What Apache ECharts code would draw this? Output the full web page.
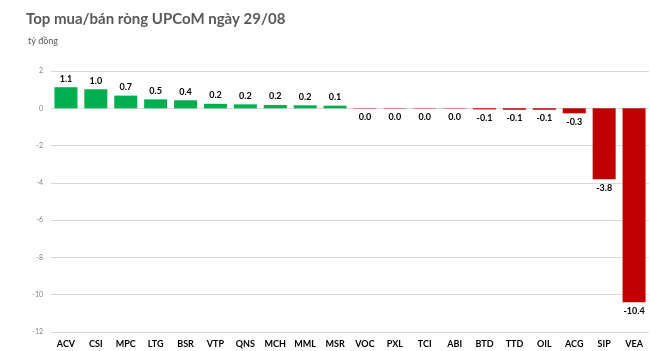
<!DOCTYPE html>
<html>
<head>
<meta charset="utf-8">
<script src="https://cdn.jsdelivr.net/npm/echarts@6/dist/echarts.min.js"></script>
<style>
  html, body { margin: 0; padding: 0; background: #fff; }
  #chart { width: 650px; height: 351px; }
</style>
</head>
<body>
<div id="chart"></div>
<script>
// mã cổ phiếu và giá trị mua/bán ròng (tỷ đồng)
const categories = ['ACV', 'CSI', 'MPC', 'LTG', 'BSR', 'VTP', 'QNS', 'MCH', 'MML', 'MSR',
  'VOC', 'PXL', 'TCI', 'ABI', 'BTD', 'TTD', 'OIL', 'ACG', 'SIP', 'VEA'];
const values = [1.13, 1.02, 0.68, 0.48, 0.43, 0.24, 0.21, 0.18, 0.16, 0.14,
  -0.02, -0.02, -0.02, -0.02, -0.06, -0.08, -0.08, -0.27, -3.8, -10.4];
const yTicks = [-12, -10, -8, -6, -4, -2, 0, 2];

const fmt = (v) => {
  let s = v.toFixed(1);
  if (s === '-0.0') s = '0.0';
  return s;
};

const myChart = echarts.init(document.getElementById('chart'));
myChart.setOption({
  animation: false,
  title: [
    {
      text: 'Top mua/bán ròng UPCoM ngày 29/08',
      left: 21, top: 7,
      textStyle: { fontFamily: 'Lato', fontSize: 15, fontWeight: 'bold', color: '#595959' }
    },
    {
      text: 'tỷ đồng',
      left: 23, top: 32,
      textStyle: { fontFamily: 'Lato', fontSize: 9, fontWeight: 'normal', color: '#595959' }
    }
  ],
  grid: { left: 51, right: 1, top: 71, bottom: 19 },
  xAxis: {
    type: 'category',
    data: categories,
    axisLine: { show: false, onZero: false },
    axisTick: { show: false },
    axisLabel: {
      margin: 8, interval: 0,
      fontFamily: 'Lato', fontSize: 9, fontWeight: 'bold', color: '#000'
    }
  },
  yAxis: {
    type: 'value',
    min: yTicks[0],
    max: yTicks[yTicks.length - 1],
    interval: 2,
    axisLine: { show: false },
    axisTick: { show: false },
    splitLine: { lineStyle: { color: '#d9d9d9', width: 1 } },
    axisLabel: { margin: 8, fontFamily: 'Lato', fontSize: 7, color: '#7f7f7f' }
  },
  series: [{
    type: 'bar',
    barWidth: 23,
    data: values.map(v => ({
      value: v,
      itemStyle: { color: v >= 0 ? '#00b050' : '#c00000' },
      label: { position: v >= 0 ? 'top' : 'bottom' }
    })),
    label: {
      show: true,
      distance: 4,
      fontFamily: 'Lato', fontSize: 9, fontWeight: 'bold', color: '#000',
      formatter: p => fmt(p.value)
    }
  }]
});
</script>
</body>
</html>
